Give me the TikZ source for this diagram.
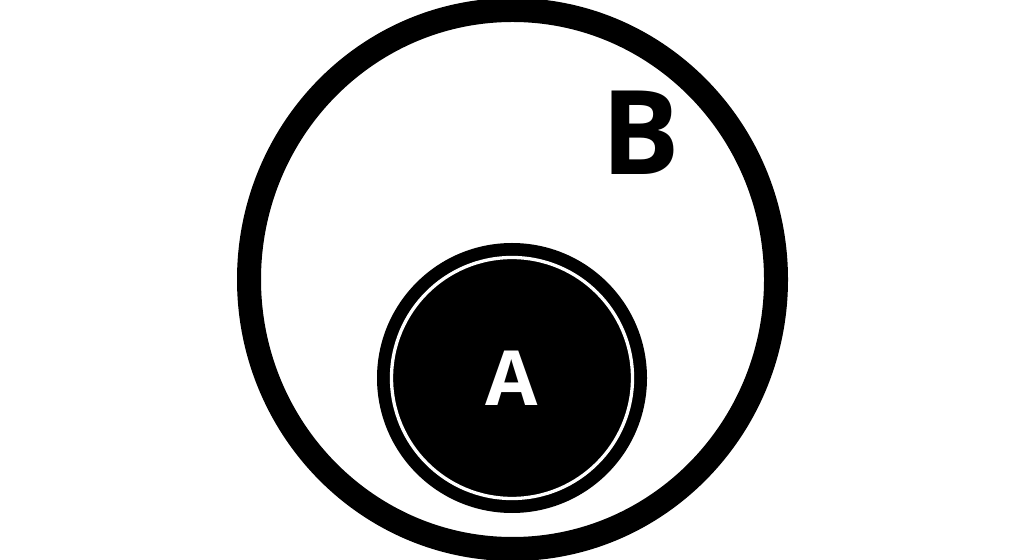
\documentclass[tikz,border=0pt]{standalone}
\usepackage{fontspec}
\setmainfont{Open Sans}
\begin{document}
\begin{tikzpicture}[x=1pt,y=1pt,
  setB/.style={draw=black,line width=24pt},
  setA/.style={fill=black},
  ringA/.style={draw=white,line width=3.3pt},
  lbl/.style={inner sep=0pt,font=\bfseries}]
\useasboundingbox (0,0) rectangle (1024,559);
\fill[white] (0,0) rectangle (1024,559);
\draw[setB] (512.5,279.5) ellipse [x radius=263.5, y radius=269.5];
\fill[setA] (512,181) circle [radius=135];
\draw[ringA] (512,181) circle [radius=120.5];
\node[lbl,text=white,font=\fontsize{76}{76}\bfseries\selectfont] (A) at (512,181) {A};
\node[lbl,text=black,font=\fontsize{117}{117}\bfseries\selectfont] (B) at (640.8,426) {B};
\end{tikzpicture}
\end{document}
